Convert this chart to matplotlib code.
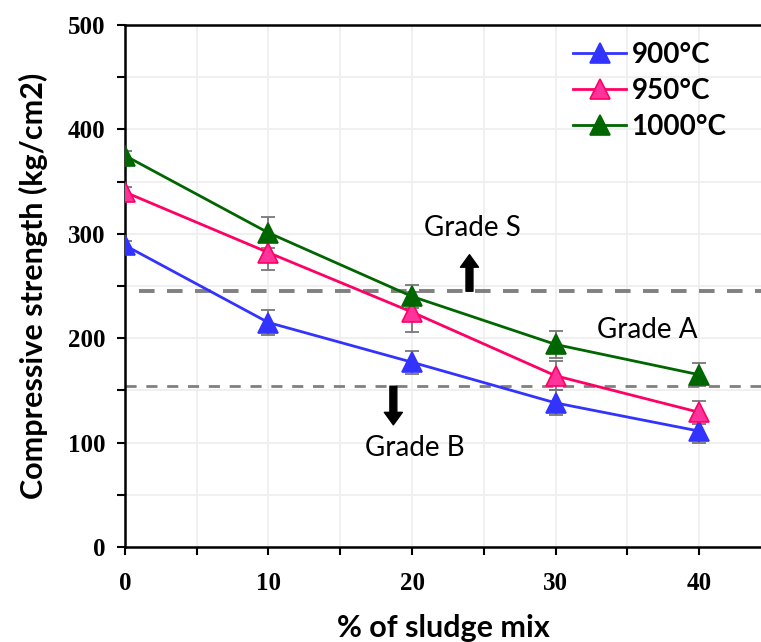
import matplotlib
matplotlib.use("Agg")
from matplotlib import pyplot as plt
from matplotlib.ticker import MultipleLocator

sludge = [0, 10, 20, 30, 40]
labels = ["900°C", "950°C", "1000°C"]
strength_900 = [289, 215, 177, 138, 111]
strength_950 = [340, 282, 225, 164, 129]
strength_1000 = [375, 301, 240, 194, 165]
err_900 = [4, 12, 11, 12, 11]
err_950 = [5, 17, 19, 14, 11]
err_1000 = [4, 15, 11, 13, 11]
grade_s = 245
grade_b = 154

line_colors = ["#3333FF", "#FF0066", "#006600"]
face_colors = ["#3333FF", "#FF3399", "#006600"]

fig = plt.figure(figsize=(7.61, 6.42), dpi=100)
ax = fig.add_axes([0.164, 0.148, 0.836, 0.813])

series = [strength_900, strength_950, strength_1000]
errors = [err_900, err_950, err_1000]
for ys, es, lab, lc, fc in zip(series, errors, labels, line_colors, face_colors):
    ax.errorbar(sludge, ys, yerr=es, fmt='none', ecolor='#777777', elinewidth=1.3,
                capsize=5, capthick=1.3, zorder=2)
    ax.plot(sludge, ys, '-', color=lc, lw=2.0, marker='^', markersize=15,
            markerfacecolor=fc, markeredgecolor=lc, markeredgewidth=1.2, label=lab, zorder=3)

ax.axhline(grade_s, xmin=0.023, color='#808080', lw=2.8, ls=(0, (4, 3.2)), zorder=1)
ax.axhline(grade_b, color='#808080', lw=2.0, ls=(0, (4, 3.5)), zorder=1)

arrow_style = dict(width=5, headwidth=13, headlength=9, facecolor='black', edgecolor='black')
ax.annotate('', xy=(24.0, 280), xytext=(24.0, grade_s), arrowprops=arrow_style)
ax.annotate('', xy=(18.7, 117), xytext=(18.7, grade_b), arrowprops=arrow_style)
ax.text(24.2, 306, 'Grade S', ha='center', va='center', fontsize=20, family='Lato')
ax.text(36.4, 208, 'Grade A', ha='center', va='center', fontsize=20, family='Lato')
ax.text(20.2, 95, 'Grade B', ha='center', va='center', fontsize=20, family='Lato')

ax.set_xlim(0, 44.3)
ax.set_ylim(0, 500)
ax.xaxis.set_major_locator(MultipleLocator(10))
ax.xaxis.set_minor_locator(MultipleLocator(5))
ax.yaxis.set_major_locator(MultipleLocator(100))
ax.yaxis.set_minor_locator(MultipleLocator(50))
ax.grid(True, which='both', color='#EEEEEE', lw=1.2, zorder=0)
ax.set_axisbelow(True)
ax.tick_params(which='both', direction='out', length=6, width=1.5)
ax.tick_params(axis='x', pad=12)
ax.tick_params(axis='y', pad=8)
for lab in ax.get_xticklabels() + ax.get_yticklabels():
    lab.set_family('Liberation Serif')
    lab.set_fontweight('bold')
    lab.set_fontsize(18)

for s in ['left', 'bottom', 'top']:
    ax.spines[s].set_linewidth(1.8)
ax.spines['right'].set_visible(False)

ax.set_xlabel('% of sludge mix', fontsize=22, fontweight='bold', family='Lato', labelpad=14)
ax.set_ylabel('Compressive strength (kg/cm2)', fontsize=22, fontweight='bold', family='Lato', labelpad=14)

leg = ax.legend(loc='upper right', bbox_to_anchor=(0.985, 1.015), frameon=False,
                prop=dict(family='Lato', weight='bold', size=20),
                handlelength=1.9, handletextpad=0.2, labelspacing=0.35)

fig.savefig('out.png', dpi=100)
